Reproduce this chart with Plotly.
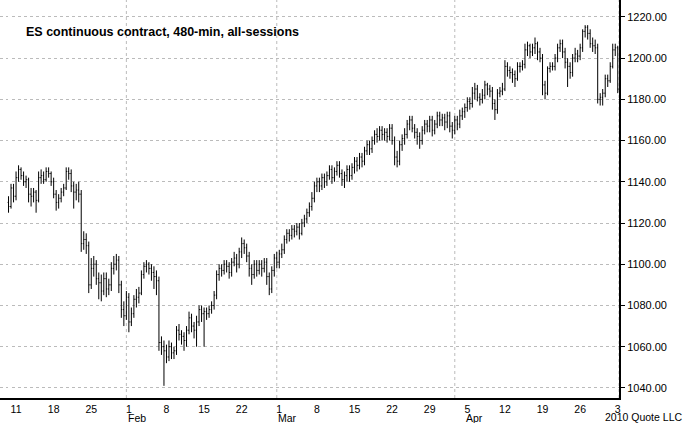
import plotly.graph_objects as go

# 480-minute bars, 3 per session, indexed from Fri Jan 8 2010
close = [1128, 1137, 1133,
         1142, 1146, 1143, 1140, 1141, 1134, 1133, 1135, 1131, 1142, 1143, 1141, 1145, 1144, 1140,
         1134, 1130, 1132, 1135, 1137, 1145, 1144, 1138, 1135, 1136, 1134, 1110, 1112, 1109, 1090,
         1098, 1100, 1093, 1091, 1087, 1093, 1088, 1090, 1098, 1100, 1102, 1090, 1078, 1075, 1084,
         1072, 1076, 1083, 1084, 1086, 1095, 1099, 1100, 1098, 1096, 1094, 1092, 1062, 1060, 1058,
         1055, 1060, 1057, 1058, 1068, 1066, 1065, 1063, 1068, 1074, 1070, 1068, 1072, 1078, 1076,
         1077, 1076, 1078, 1080, 1085, 1095, 1098, 1097, 1100, 1099, 1096, 1101, 1103, 1100, 1106,
         1110, 1108, 1104, 1098, 1095, 1100, 1097, 1100, 1098, 1101, 1094, 1088, 1097, 1103, 1101,
         1105, 1107, 1112, 1115, 1114, 1117, 1116, 1118, 1115, 1120, 1122, 1125, 1128, 1132, 1138,
         1140, 1138, 1142, 1140, 1143, 1146, 1142, 1145, 1148, 1144, 1141, 1143, 1146, 1143, 1147,
         1150, 1148, 1152, 1150, 1155, 1158, 1156, 1160, 1163, 1162, 1165, 1163, 1164, 1162, 1166,
         1160, 1152, 1150, 1158, 1161, 1163, 1168, 1170, 1166, 1164, 1162, 1160, 1165, 1168, 1167,
         1170, 1165, 1168, 1172, 1170, 1171, 1169, 1172, 1167, 1165, 1170, 1168, 1172, 1174, 1176,
         1179, 1178, 1183, 1185, 1181, 1180, 1182, 1187, 1185, 1184, 1178, 1175, 1183, 1184, 1185,
         1196, 1194, 1193, 1192, 1190, 1196, 1196, 1197, 1204, 1206, 1203, 1205, 1207, 1203, 1200,
         1187, 1183, 1195, 1196, 1196, 1200, 1205, 1207, 1203, 1198, 1196, 1193, 1200, 1202, 1201,
         1205, 1213, 1215, 1212, 1207, 1206, 1205, 1180, 1181, 1183, 1190, 1189, 1196, 1204, 1205,
         1185]

high = [1133, 1139, 1139,
        1145, 1148, 1147, 1145, 1143, 1142, 1137, 1137, 1136, 1145, 1146, 1145, 1147, 1147, 1145,
        1142, 1136, 1134, 1137, 1139, 1147, 1147, 1146, 1140, 1139, 1140, 1136, 1116, 1115, 1111,
        1103, 1104, 1102, 1096, 1095, 1096, 1096, 1093, 1101, 1104, 1105, 1104, 1092, 1082, 1087,
        1086, 1079, 1085, 1088, 1089, 1097, 1101, 1102, 1101, 1100, 1099, 1097, 1094, 1065, 1063,
        1061, 1063, 1062, 1060, 1070, 1071, 1068, 1067, 1070, 1077, 1076, 1072, 1075, 1080, 1080,
        1079, 1079, 1080, 1082, 1087, 1097, 1100, 1100, 1102, 1102, 1101, 1103, 1106, 1105, 1108,
        1113, 1112, 1110, 1106, 1100, 1102, 1102, 1102, 1102, 1103, 1103, 1096, 1099, 1105, 1106,
        1107, 1110, 1114, 1117, 1117, 1119, 1119, 1120, 1120, 1122, 1124, 1127, 1130, 1135, 1140,
        1142, 1142, 1144, 1144, 1145, 1148, 1148, 1147, 1150, 1150, 1146, 1145, 1148, 1148, 1149,
        1152, 1152, 1154, 1154, 1157, 1160, 1160, 1162, 1165, 1166, 1167, 1167, 1166, 1166, 1168,
        1168, 1162, 1155, 1160, 1163, 1166, 1170, 1172, 1172, 1168, 1166, 1164, 1167, 1170, 1170,
        1172, 1172, 1170, 1174, 1174, 1173, 1173, 1174, 1174, 1169, 1172, 1172, 1175, 1176, 1178,
        1181, 1181, 1186, 1188, 1187, 1183, 1185, 1189, 1188, 1187, 1186, 1180, 1185, 1186, 1188,
        1199, 1198, 1196, 1195, 1194, 1198, 1198, 1199, 1207, 1208, 1207, 1207, 1210, 1208, 1205,
        1202, 1189, 1196, 1198, 1198, 1202, 1207, 1209, 1209, 1205, 1200, 1198, 1202, 1205, 1204,
        1207, 1214, 1216, 1216, 1214, 1210, 1209, 1207, 1183, 1185, 1192, 1192, 1198, 1207, 1207,
        1206]

low = [1125, 1127, 1130,
       1131, 1140, 1141, 1138, 1137, 1130, 1128, 1130, 1125, 1130, 1139, 1139, 1140, 1142, 1138,
       1132, 1126, 1127, 1130, 1133, 1136, 1141, 1135, 1127, 1131, 1130, 1106, 1107, 1105, 1086,
       1088, 1094, 1090, 1083, 1082, 1085, 1084, 1085, 1087, 1095, 1097, 1086, 1074, 1070, 1073,
       1067, 1070, 1074, 1079, 1081, 1085, 1093, 1096, 1095, 1092, 1088, 1085, 1058, 1056, 1041,
       1052, 1053, 1054, 1054, 1056, 1063, 1061, 1058, 1060, 1066, 1067, 1064, 1060, 1070, 1072,
       1060, 1073, 1074, 1076, 1078, 1083, 1092, 1094, 1095, 1096, 1093, 1094, 1099, 1096, 1098,
       1103, 1105, 1101, 1094, 1090, 1093, 1094, 1095, 1094, 1096, 1090, 1085, 1086, 1094, 1098,
       1098, 1103, 1105, 1110, 1111, 1112, 1113, 1114, 1112, 1114, 1118, 1120, 1123, 1126, 1130,
       1135, 1135, 1136, 1137, 1138, 1141, 1139, 1140, 1143, 1142, 1138, 1137, 1140, 1140, 1141,
       1144, 1145, 1146, 1147, 1148, 1153, 1153, 1154, 1158, 1159, 1160, 1160, 1160, 1159, 1160,
       1158, 1148, 1147, 1148, 1155, 1158, 1161, 1165, 1164, 1161, 1158, 1156, 1158, 1163, 1164,
       1164, 1162, 1163, 1166, 1167, 1167, 1165, 1166, 1164, 1161, 1163, 1165, 1166, 1170, 1171,
       1174, 1175, 1176, 1180, 1179, 1177, 1178, 1180, 1182, 1181, 1175, 1170, 1173, 1181, 1182,
       1184, 1191, 1190, 1188, 1186, 1189, 1193, 1194, 1195, 1201, 1200, 1201, 1202, 1199, 1198,
       1182, 1180, 1182, 1193, 1194, 1194, 1198, 1203, 1200, 1195, 1186, 1190, 1191, 1198, 1198,
       1199, 1203, 1210, 1209, 1205, 1203, 1202, 1178, 1177, 1177, 1181, 1186, 1188, 1195, 1201,
       1183]

first_open = 1130
opens = [first_open] + close[:-1]
bars = list(range(len(close)))

# Monday ticks (bar index) and their labels
tick_pos = [3, 18, 33, 48, 63, 78, 93, 108, 123, 138, 153, 168, 183, 198, 213, 228, 243]
tick_text = ["11", "18", "25", "1", "8", "15", "22", "1", "8", "15", "22",
             "29", "5", "12", "19", "26", "3"]
month_pos = [48, 108, 183]
month_text = ["Feb", "Mar", "Apr"]
month_lines = [47, 107, 178, 243.5]

fig = go.Figure(go.Ohlc(
    x=bars, open=opens, high=high, low=low, close=close,
    increasing_line_color="black", decreasing_line_color="black",
    line_width=1, tickwidth=0.35, hoverinfo="skip",
))

for m in month_lines:
    fig.add_vline(x=m, line_color="#bbbbbb", line_width=1, line_dash="dot", layer="below")

for p, t in zip(month_pos, month_text):
    fig.add_annotation(text=t, x=p, xref="x", yref="paper", y=-0.05,
                       xanchor="left", yanchor="middle", xshift=-3, showarrow=False,
                       font=dict(size=10.5))

fig.update_layout(
    width=685, height=423,
    margin=dict(l=0, r=66, t=0, b=25),
    paper_bgcolor="white", plot_bgcolor="white",
    font=dict(family="Arial, Liberation Sans", size=11, color="black"),
    showlegend=False,
)
fig.update_xaxes(
    range=[-3.4, 243.5], rangeslider_visible=False,
    tickmode="array", tickvals=tick_pos, ticktext=tick_text,
    showgrid=False, showline=True, linecolor="black", linewidth=2,
    ticks="", ticklabelstandoff=0, tickfont=dict(size=10.5),
)
fig.update_yaxes(
    side="right", range=[1035.1, 1228.2],
    tickvals=[1040, 1060, 1080, 1100, 1120, 1140, 1160, 1180, 1200, 1220],
    tickformat=".2f", ticks="outside", ticklen=4, tickcolor="black",
    showgrid=True, gridcolor="#bbbbbb", griddash="dot", gridwidth=1,
    showline=True, linecolor="black", linewidth=2, zeroline=False,
    tickfont=dict(size=11),
)

fig.add_annotation(text="<b>ES continuous contract, 480-min, all-sessions</b>",
                   xref="paper", yref="paper", x=0.038, y=0.92,
                   xanchor="left", yanchor="middle", showarrow=False,
                   font=dict(size=12.5, color="black"))
fig.add_annotation(text="2010 Quote LLC", xref="paper", yref="paper",
                   x=1.105, y=-0.048, xanchor="right", yanchor="middle",
                   showarrow=False, font=dict(size=10.5))

fig.write_html("out.html", config={"displayModeBar": False},
               post_script="document.body.style.margin='0';")
